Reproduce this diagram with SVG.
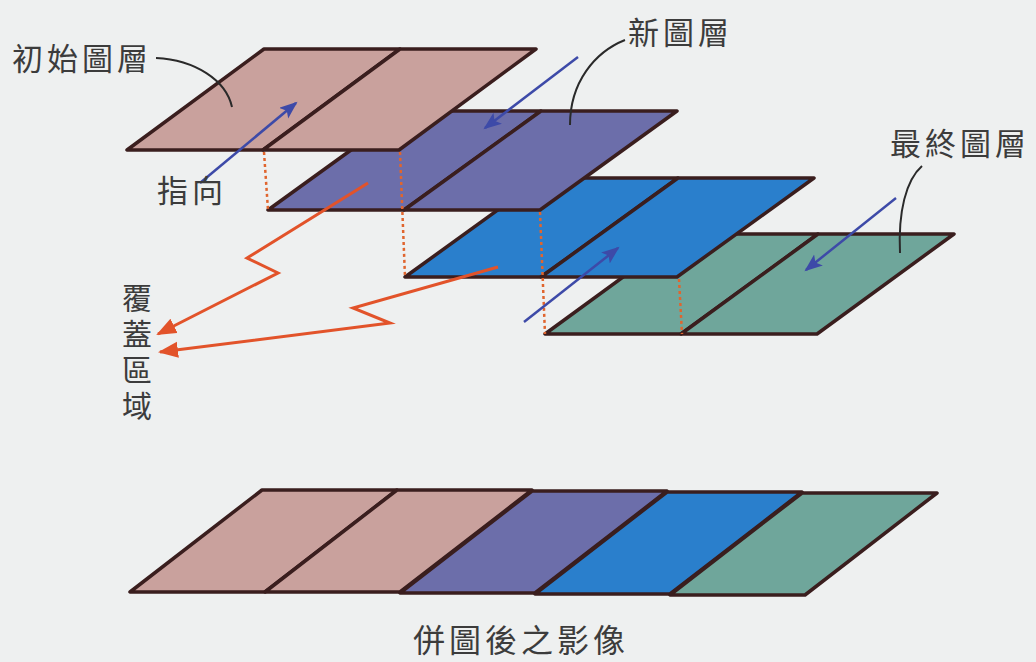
<svg xmlns="http://www.w3.org/2000/svg" width="1036" height="662" viewBox="0 0 1036 662">
<style>
.cell{stroke:#3a1e1e;stroke-width:3.5;stroke-linejoin:round}
.pink{fill:#c9a19d}
.purple{fill:#6c6eaa}
.blue{fill:#2a7fcc}
.green{fill:#6fa69b}
.dash{stroke:#e0652e;stroke-width:2.5;stroke-dasharray:3 3;fill:none}
.barrow{stroke:#3d4aa8;stroke-width:2.5;fill:none}
.oarrow{stroke:#e2532a;stroke-width:3;fill:none;stroke-linejoin:miter}
.leader{stroke:#2a2a2a;stroke-width:2;fill:none}
.lbl{font-family:"Noto Sans CJK TC","Noto Sans CJK SC",sans-serif;font-size:31px;fill:#3c3c3c;letter-spacing:4px}
</style>
<defs>
<marker id="bh" markerUnits="userSpaceOnUse" markerWidth="20" markerHeight="16" refX="16" refY="7" orient="auto">
<path d="M0,0 L18,7 L0,14 L4,7 Z" fill="#3d4aa8"/>
</marker>
<marker id="oh" markerUnits="userSpaceOnUse" markerWidth="22" markerHeight="18" refX="18" refY="8" orient="auto">
<path d="M0,0 L20,8 L0,16 Z" fill="#e2532a"/>
</marker>
</defs>
<rect x="0" y="0" width="1036" height="662" fill="#eef0f0"/>

<g id="layer-final">
<path class="cell green" d="M545,334 L681,334 L818,234 L682,234 Z"/>
<path class="cell green" d="M681,334 L817,334 L954,234 L818,234 Z"/>
</g>
<g id="layer-blue">
<path class="cell blue" d="M405,277 L541,277 L678,178 L542,178 Z"/>
<path class="cell blue" d="M541,277 L677,277 L814,178 L678,178 Z"/>
</g>
<g id="layer-new">
<path class="cell purple" d="M268,210 L404,210 L541,111 L405,111 Z"/>
<path class="cell purple" d="M404,210 L540,210 L677,111 L541,111 Z"/>
</g>
<g id="layer-initial">
<path class="cell pink" d="M127,150 L263,150 L400,49 L264,49 Z"/>
<path class="cell pink" d="M263,150 L399,150 L536,49 L400,49 Z"/>
</g>

<g id="merged-image">
<path class="cell pink" d="M130,592 L265,592 L397,490 L262,490 Z"/>
<path class="cell pink" d="M265,592 L400,592 L532,490 L397,490 Z"/>
<path class="cell purple" d="M400,593 L535,593 L667,491 L532,491 Z"/>
<path class="cell blue" d="M535,594 L670,594 L802,492 L667,492 Z"/>
<path class="cell green" d="M670,595 L805,595 L937,493 L802,493 Z"/>
</g>

<g id="connectors">
<path class="dash" d="M264,152 L268,210"/>
<path class="dash" d="M400,152 L405,277"/>
<path class="dash" d="M540,212 L545,334"/>
<path class="dash" d="M679,279 L682,334"/>
<path class="barrow" d="M200,183 L296,103" marker-end="url(#bh)"/>
<path class="barrow" d="M578,57 L485,128" marker-end="url(#bh)"/>
<path class="barrow" d="M524,322 L618,248" marker-end="url(#bh)"/>
<path class="barrow" d="M896,198 L806,270" marker-end="url(#bh)"/>
<path class="oarrow" d="M368,183 L247,258 L278,273 L158,334" marker-end="url(#oh)"/>
<path class="oarrow" d="M498,267 L353,308 L390,323 L160,352" marker-end="url(#oh)"/>
<path class="leader" d="M156,58 C195,60 226,80 232,107"/>
<path class="leader" d="M625,40 C595,52 570,82 570,125"/>
<path class="leader" d="M922,166 C906,180 898,212 900,253"/>
</g>

<g id="labels">
<text class="lbl" x="12" y="70">初始圖層</text>
<text class="lbl" x="628" y="44">新圖層</text>
<text class="lbl" x="890" y="155">最終圖層</text>
<text class="lbl" x="157" y="202">指向</text>
<text class="lbl" x="137" y="283" writing-mode="vertical-rl" style="letter-spacing:6px;font-size:30px">覆蓋區域</text>
<text class="lbl" x="413" y="652" style="font-size:32px">併圖後之影像</text>
</g>
</svg>
